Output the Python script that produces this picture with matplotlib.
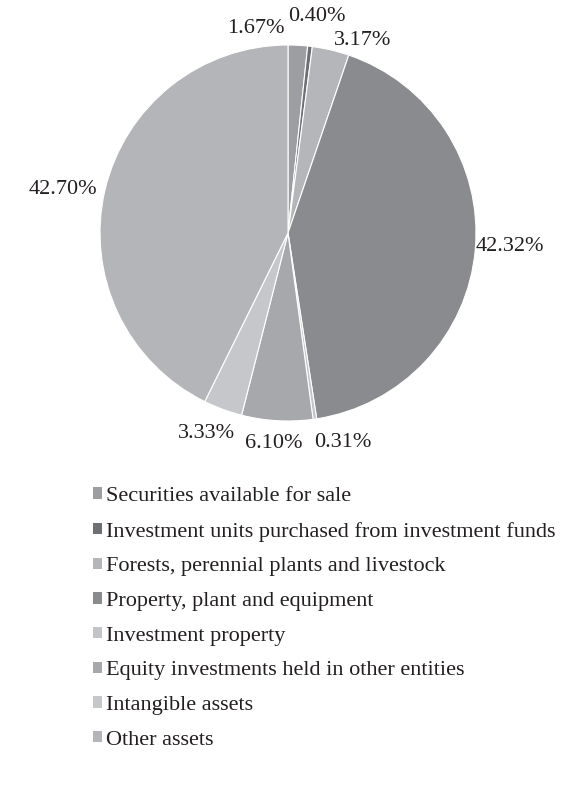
import numpy as np
import matplotlib.pyplot as plt
from matplotlib.patches import Patch

plt.rcParams['font.family'] = ['Liberation Serif', 'DejaVu Serif']

categories = [
    "Securities available for sale",
    "Investment units purchased from investment funds",
    "Forests, perennial plants and livestock",
    "Property, plant and equipment",
    "Investment property",
    "Equity investments held in other entities",
    "Intangible assets",
    "Other assets",
]
shares = [1.67, 0.40, 3.17, 42.32, 0.31, 6.10, 3.33, 42.70]
colors = ["#9d9ea2", "#6e6f73", "#b5b6ba", "#8a8b8f",
          "#c3c4c7", "#a7a8ac", "#c6c7ca", "#b4b5b9"]
# small angle nudges (deg) and radial distances so labels sit like the original
label_shift = [12, -1, -8, 1.5, 6.5, -0.5, -2, 2.3]
label_dist = [1.10, 1.16, 1.10, 1.18, 1.15, 1.12, 1.15, 1.22]

W, H = 564, 802
cx, cy, r = 288, 233, 188
fig = plt.figure(figsize=(W / 100, H / 100), dpi=100)
ax = fig.add_axes([(cx - r) / W, (H - cy - r) / H, 2 * r / W, 2 * r / H])

wedges, _ = ax.pie(shares, colors=colors, startangle=90, counterclock=False,
                   wedgeprops=dict(edgecolor="white", linewidth=0.8))
ax.set_xlim(-1, 1)
ax.set_ylim(-1, 1)
ax.set_aspect("equal")

for w, v, s, d in zip(wedges, shares, label_shift, label_dist):
    ang = np.deg2rad((w.theta1 + w.theta2) / 2 + s)
    ax.text(d * np.cos(ang), d * np.sin(ang), f"{v:.2f}%", ha="center",
            va="center", fontsize=16, color="#231f20")

handles = [Patch(facecolor=c, edgecolor="none") for c in colors]
fig.legend(handles, categories, loc="upper left",
           bbox_to_anchor=(73 / W, 1 - 467 / H), frameon=False, fontsize=16,
           handlelength=0.42, handleheight=0.42, handletextpad=0.15,
           labelspacing=0.705, labelcolor="#231f20")

fig.savefig("out.png", dpi=100)
